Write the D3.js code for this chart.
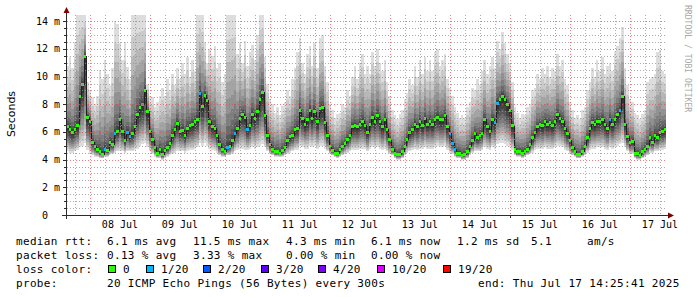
<!DOCTYPE html>
<html><head><meta charset="utf-8">
<script src="https://cdn.jsdelivr.net/npm/d3@7"></script>
<style>
body{margin:0;background:#fff}
svg{display:block}
text{font-family:"DejaVu Sans Mono",monospace;white-space:pre}
</style>
</head><body>
<svg id="chart" width="697" height="297"></svg>
<script>
// ---------- DATA ----------
const startTime = "2025-07-07T14:25:41";
const endTime   = "2025-07-17T14:25:41";

// hourly median rtt (ms)
const medianRtt = [
 6.4,6.2,6.0,6.2,6.5,8.6,9.5,11.5,7.1,6.8,
 5.3,5.0,4.8,4.6,4.4,4.8,4.7,5.3,5.1,5.9,6.1,6.9,6.1,5.4,6.0,5.7,5.9,6.4,7.3,7.8,8.0,9.0,7.5,6.1,
 5.5,4.9,4.5,4.75,4.4,4.7,4.9,5.2,5.8,6.2,6.65,6.1,6.15,5.8,6.3,6.5,6.6,6.8,6.95,8.8,7.9,8.7,8.3,6.8,
 6.4,6.3,5.8,5.1,4.8,4.6,4.9,5.0,5.4,5.9,6.3,7.0,7.3,7.1,6.2,6.5,7.3,7.0,7.5,8.4,8.9,7.2,5.8,5.1,
 4.8,4.6,4.6,4.5,4.7,4.9,5.4,5.7,5.8,6.2,6.3,7.6,7.0,6.6,6.9,7.6,7.0,7.5,6.8,7.7,7.8,6.7,5.8,5.0,
 4.7,4.5,4.5,4.8,5.0,5.2,5.5,5.8,6.4,6.5,6.4,6.6,6.8,6.5,6.0,6.6,7.1,6.8,7.2,6.8,6.4,6.9,6.2,5.5,
 4.8,4.5,4.4,4.4,4.6,5.0,5.5,6.0,6.2,6.6,6.4,6.8,6.5,7.0,6.6,6.8,6.6,6.9,7.1,6.9,6.9,7.2,6.4,5.9,
 5.2,4.75,4.5,4.5,4.3,4.4,4.6,5.0,5.4,5.9,5.6,5.8,5.9,6.9,6.4,6.1,6.9,6.7,8.1,8.4,8.6,8.4,8.0,7.6,
 6.5,4.8,4.6,4.6,4.5,4.6,4.8,5.1,5.6,6.0,6.4,6.6,6.5,6.8,6.6,6.7,6.5,6.8,7.3,7.0,6.8,6.3,5.9,5.4,
 4.9,4.6,4.4,4.4,4.6,5.0,5.6,6.3,6.7,6.6,6.8,6.8,6.9,6.55,6.3,6.9,6.6,6.9,7.3,7.6,8.6,6.6,5.7,5.25,
 5.35,4.5,4.45,4.35,4.6,4.8,5.0,5.65,5.3,5.8,5.65,6.0,6.1,6.2
];
// hourly fastest ping (bottom of smoke, ms)
const smokeLow = [
 4.6,4.5,4.5,4.6,4.7,4.9,5.0,5.2,4.7,4.4,
 4.3,4.2,4.2,4.1,4.1,4.2,4.2,4.3,4.4,4.5,4.6,4.6,4.6,4.5,4.6,4.6,4.6,4.7,4.8,5.0,5.1,5.2,4.9,4.6,
 4.4,4.2,4.1,4.1,4.0,4.1,4.2,4.3,4.4,4.5,4.6,4.6,4.6,4.5,4.6,4.7,4.7,4.8,4.9,5.2,5.0,5.2,5.0,4.8,
 4.7,4.6,4.5,4.3,4.2,4.2,4.3,4.3,4.4,4.6,4.7,4.8,4.8,4.7,4.7,4.8,4.9,4.8,4.9,5.0,5.1,4.9,4.6,4.4,
 4.3,4.2,4.2,4.2,4.2,4.3,4.4,4.5,4.6,4.7,4.7,5.0,4.9,4.8,4.8,5.0,4.9,5.0,4.8,5.0,5.0,4.8,4.6,4.4,
 4.3,4.2,4.1,4.2,4.3,4.4,4.5,4.6,4.7,4.7,4.7,4.8,4.8,4.8,4.6,4.8,4.9,4.8,4.9,4.8,4.7,4.8,4.6,4.4,
 4.3,4.1,4.0,4.0,4.1,4.3,4.5,4.6,4.7,4.8,4.7,4.8,4.8,4.9,4.8,4.8,4.8,4.9,5.0,4.9,4.9,5.0,4.7,4.5,
 4.4,4.2,4.1,4.1,4.0,4.0,4.1,4.3,4.5,4.6,4.6,4.6,4.7,4.9,4.8,4.7,4.9,4.8,5.1,5.2,5.2,5.1,5.0,4.9,
 4.7,4.3,4.2,4.2,4.1,4.2,4.3,4.4,4.5,4.7,4.8,4.8,4.8,4.9,4.8,4.8,4.8,4.9,5.0,5.0,4.9,4.7,4.6,4.4,
 4.3,4.2,4.1,4.1,4.2,4.3,4.5,4.7,4.8,4.8,4.9,4.9,4.9,4.8,4.7,4.9,4.8,4.9,5.0,5.1,5.2,4.9,4.6,4.4,
 4.4,4.1,4.0,4.0,4.1,4.2,4.3,4.5,4.5,4.6,4.6,4.7,4.7,4.8
];
// hourly slowest ping (top of smoke, ms)
const smokeHigh = [
 10.8,11.4,10.6,12.5,14.5,14.5,14.5,14.5,9.6,9.0,
 8.5,8.0,8.6,10.5,9.8,11.2,10.2,9.4,10.6,14.0,13.8,12.4,11.2,12.5,10.7,9.8,14.5,14.5,14.5,14.5,14.5,14.5,9.5,8.6,
 8.5,7.8,8.2,8.6,9.2,8.6,9.8,9.0,10.2,9.4,10.6,9.8,11.0,10.2,11.4,10.0,11.2,10.4,14.5,14.5,14.5,12.5,11.0,12.0,
 11.5,12.2,10.6,11.0,9.6,10.2,14.5,14.5,14.5,14.5,11.6,12.4,11.0,12.6,10.8,11.8,12.3,11.2,13.0,14.5,14.5,11.4,9.5,8.4,
 8.0,7.4,7.8,7.2,7.9,8.2,9.0,8.6,9.8,10.6,11.8,12.8,11.0,10.2,11.6,12.2,10.8,12.4,10.6,12.8,13.0,10.8,9.6,8.0,
 7.6,7.0,7.3,7.4,8.0,7.8,9.0,8.6,10.0,10.8,9.8,11.0,11.6,10.2,10.8,10.2,11.8,10.8,12.0,11.0,10.4,11.2,9.6,8.6,
 7.6,7.2,6.9,7.3,7.6,8.4,8.8,9.8,9.4,10.8,10.0,11.2,10.2,11.4,10.4,11.2,10.4,11.8,12.0,10.8,11.2,11.6,9.8,9.2,
 8.6,7.8,7.4,7.0,7.2,7.0,7.8,8.2,9.2,9.0,9.8,9.4,10.4,11.2,10.2,10.8,11.4,10.6,12.6,12.0,13.2,12.4,11.6,11.0,
 9.6,7.8,7.4,7.0,7.3,7.2,7.8,8.0,9.0,9.2,10.2,9.8,10.6,10.2,10.8,10.0,10.6,10.4,11.6,10.8,11.2,9.8,9.4,8.2,
 7.6,7.0,7.2,6.9,7.6,7.8,9.0,9.6,10.6,10.0,11.2,10.4,11.4,10.2,10.8,11.0,10.4,11.8,12.2,12.8,13.6,10.6,9.4,8.4,
 8.2,7.4,7.2,6.9,7.3,7.6,9.6,9.8,10.0,10.2,11.8,11.9,10.4,10.2
];
// hours with lost packets: [hour index, lost out of 20]
const lossHours = [[15,1],[19,1],[24,1],[25,1],[30,1],[53,1],[64,1],[67,1],[72,1],
                   [153,1],[154,1],[155,1],[171,1],[172,1],[217,1],[221,1]];

const yTickValues = [0,2,4,6,8,10,12,14];
const yTickLabels = ["0","2 m","4 m","6 m","8 m","10 m","12 m","14 m"];
const dayLabels = ["08 Jul","09 Jul","10 Jul","11 Jul","12 Jul","13 Jul","14 Jul","15 Jul","16 Jul","17 Jul"];

const lossLevels  = ["0","1/20","2/20","3/20","4/20","10/20","19/20"];
const lossCounts  = [0,1,2,3,4,10,19];
const lossColors  = ["#26ff00","#00b8ff","#0059ff","#5e00ff","#7e00ff","#dd00ff","#ff0000"];

const rttStats  = ["median rtt:","6.1 ms avg","11.5 ms max","4.3 ms min","6.1 ms now","1.2 ms sd","5.1","am/s"];
const lossStats = ["packet loss:","0.13 % avg","3.33 % max","0.00 % min","0.00 % now"];
const probeText = ["probe:","20 ICMP Echo Pings (56 Bytes) every 300s","end: Thu Jul 17 14:25:41 2025"];

// ---------- LAYOUT ----------
const L = 66, R = 666, T = 15, B = 215;
const svg = d3.select("#chart");
svg.append("rect").attr("width",697).attr("height",297).attr("fill","#fff");

const t0 = new Date(startTime), t1 = new Date(endTime);
const x = d3.scaleTime().domain([t0,t1]).range([L,R]);
const y = d3.scaleLinear().domain([0,14.45]).range([B,T]);
const HOUR = 3600e3;

svg.append("clipPath").attr("id","plot").append("rect")
  .attr("x",L).attr("y",T).attr("width",R-L).attr("height",B-T);
const g = svg.append("g").attr("clip-path","url(#plot)");

// smoke: 10 nested bands, lightest outermost
const K = 10;
const bins = medianRtt.map((m,i)=>({i,m,lo:smokeLow[i],hi:smokeHigh[i],
  x0:Math.round(x(new Date(+t0+i*HOUR))), x1:Math.round(x(new Date(+t0+(i+1)*HOUR)))}));
for(let k=0;k<K;k++){
  const f = (K-k)/K;
  const c = Math.round(190/K*(K-(k+1)))+50;
  const col = d3.rgb(c,c,c).formatHex();
  const top = d => Math.round(y(d.m+(d.hi-d.m)*Math.pow(f,2.0)));
  const bot = d => Math.round(y(d.m-(d.m-d.lo)*Math.pow(f,0.8)));
  g.append("g").selectAll("rect").data(bins).join("rect")
    .attr("x",d=>d.x0).attr("width",d=>d.x1-d.x0)
    .attr("y",top).attr("height",d=>Math.max(0,bot(d)-top(d)))
    .attr("fill",col).attr("shape-rendering","crispEdges");
}

// grid (dotted, on top of smoke)
const gridG = svg.append("g").attr("shape-rendering","crispEdges");
const minorCol = "rgba(150,150,150,0.8)", majorCol = "rgba(222,80,80,0.75)";
const minorY = d3.range(0,14.45,0.5).filter(v=>v%2!==0);
gridG.selectAll("line.my").data(minorY).join("line")
  .attr("x1",L+1).attr("x2",R).attr("y1",d=>Math.round(y(d))+0.5).attr("y2",d=>Math.round(y(d))+0.5)
  .attr("stroke",minorCol).attr("stroke-dasharray","1,2");
const minorX = d3.timeHour.every(6).range(t0,t1).filter(d=>d.getHours()!==0);
gridG.selectAll("line.mx").data(minorX).join("line")
  .attr("y1",T).attr("y2",B).attr("x1",d=>Math.round(x(d))+0.5).attr("x2",d=>Math.round(x(d))+0.5)
  .attr("stroke",minorCol).attr("stroke-dasharray","1,2");
gridG.selectAll("line.My").data(yTickValues.filter(v=>v>0)).join("line")
  .attr("x1",L+1).attr("x2",R).attr("y1",d=>Math.round(y(d))+0.5).attr("y2",d=>Math.round(y(d))+0.5)
  .attr("stroke",majorCol).attr("stroke-dasharray","1,2");
const days = d3.timeDay.range(t0,t1);
gridG.selectAll("line.Mx").data(days).join("line")
  .attr("y1",T).attr("y2",B).attr("x1",d=>Math.round(x(d))+0.5).attr("x2",d=>Math.round(x(d))+0.5)
  .attr("stroke",majorCol).attr("stroke-dasharray","1,2");

// median line (step) + loss-coloured marks
const stepPts = bins.map(d=>[d.x0,Math.round(y(d.m))+0.5]);
stepPts.push([bins[bins.length-1].x1, stepPts[stepPts.length-1][1]]);
g.append("path").attr("d",d3.line().curve(d3.curveStepAfter)(stepPts))
  .attr("fill","none").attr("stroke","#202020").attr("stroke-width",1).attr("shape-rendering","crispEdges");
const lossMap = new Map(lossHours);
const colorFor = n => { let c = lossColors[0]; lossCounts.forEach((lc,j)=>{ if(n>=lc) c = lossColors[j]; }); return c; };
g.append("g").selectAll("rect").data(bins).join("rect")
  .attr("x",d=>d.x0).attr("width",d=>d.x1-d.x0)
  .attr("y",d=>Math.round(y(d.m))-1).attr("height",3)
  .attr("fill",d=>colorFor(lossMap.get(d.i)||0)).attr("shape-rendering","crispEdges");

// axes
const ax = svg.append("g").attr("shape-rendering","crispEdges");
ax.append("line").attr("x1",62).attr("x2",669).attr("y1",B+0.5).attr("y2",B+0.5).attr("stroke","#2c2c2c");
ax.append("line").attr("x1",L+0.5).attr("x2",L+0.5).attr("y1",B+4).attr("y2",12).attr("stroke","#2c2c2c");
ax.selectAll("line.yt").data(d3.range(0,14.45,0.5)).join("line")
  .attr("x1",d=>d%2===0?63:64).attr("x2",L).attr("y1",d=>Math.round(y(d))+0.5).attr("y2",d=>Math.round(y(d))+0.5)
  .attr("stroke","#2c2c2c");
ax.selectAll("line.xt").data(days).join("line")
  .attr("x1",d=>Math.round(x(d))+0.5).attr("x2",d=>Math.round(x(d))+0.5).attr("y1",B).attr("y2",B+3)
  .attr("stroke","#2c2c2c");
svg.append("polygon").attr("points",`668,212.5 674,215.5 668,218.5`).attr("fill","#7f0000");
svg.append("polygon").attr("points",`63.5,13 66.5,7 69.5,13`).attr("fill","#7f0000");

// y tick labels
svg.selectAll("text.yl").data(yTickValues).join("text")
  .attr("x",(d,i)=> yTickLabels[i].includes("m") ? 60 : 48)
  .attr("y",d=>y(d)+3.5).attr("text-anchor","end").attr("font-size",10).attr("fill","#000")
  .text((d,i)=>yTickLabels[i]);
// x labels at noon
svg.selectAll("text.xl").data(days).join("text")
  .attr("x",d=>x(d3.timeHour.offset(d,12))).attr("y",228).attr("text-anchor","middle")
  .attr("font-size",10).attr("fill","#000").text((d,i)=>dayLabels[i]);

// y title
svg.append("text").attr("transform","translate(14.5,114) rotate(-90)").attr("text-anchor","middle")
  .style("font-family","'DejaVu Sans',sans-serif").attr("font-size",11).text("Seconds");

// watermark
svg.append("text").attr("transform","translate(684.5,5) rotate(90)")
  .attr("font-size",8.1).attr("fill","#a8a8a8").text("RRDTOOL / TOBI OETIKER");

// legend
const lg = svg.append("g").attr("font-size",11).attr("letter-spacing","0.33px");
const row1x = [16,107,193,286,371,457,531,587];
rttStats.forEach((s,i)=>lg.append("text").attr("x",row1x[i]).attr("y",245).text(s));
lossStats.forEach((s,i)=>lg.append("text").attr("x",row1x[i]).attr("y",259).text(s));
lg.append("text").attr("x",16).attr("y",273).text("loss color:");
const boxX = [108,146,203,261,318,377,443];
lossLevels.forEach((s,i)=>{
  lg.append("rect").attr("x",boxX[i]+0.5).attr("y",265.5).attr("width",7).attr("height",7)
    .attr("fill",lossColors[i]).attr("stroke","#000").attr("stroke-width",1);
  lg.append("text").attr("x",boxX[i]+15).attr("y",273).text(s);
});
lg.append("text").attr("x",16).attr("y",287).text(probeText[0]);
lg.append("text").attr("x",107).attr("y",287).text(probeText[1]);
lg.append("text").attr("x",478).attr("y",287).text(probeText[2]);
</script>
</body></html>
